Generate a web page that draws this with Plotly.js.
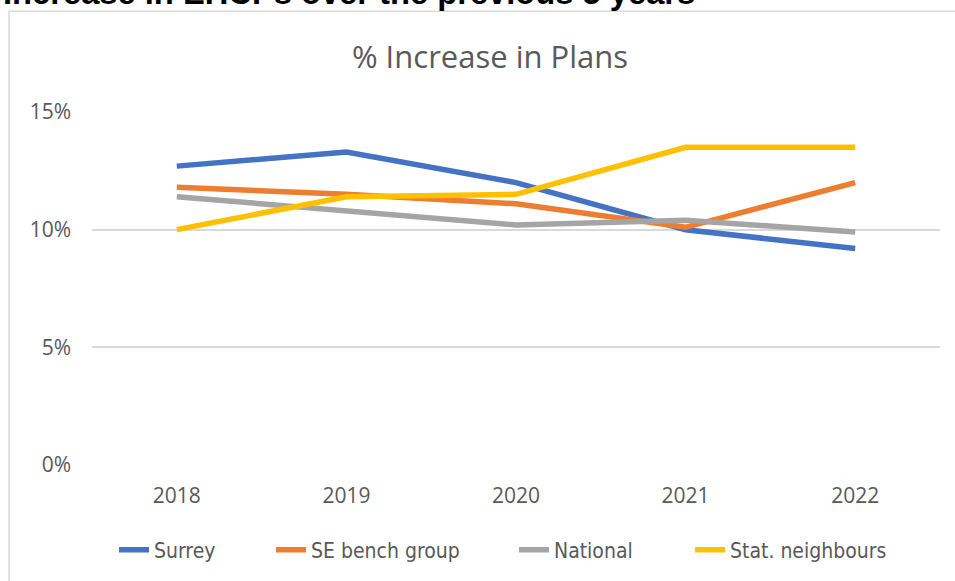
<!DOCTYPE html>
<html>
<head>
<meta charset="utf-8">
<script src="https://cdn.plot.ly/plotly-3.0.1.min.js"></script>
<style>html,body{margin:0;padding:0;background:#fff;}#chart{width:955px;height:581px;}</style>
</head>
<body>
<div id="chart"></div>
<script>
const years = ['2018', '2019', '2020', '2021', '2022'];
const surrey = [0.127, 0.133, 0.120, 0.100, 0.092];
const seBench = [0.118, 0.115, 0.111, 0.101, 0.120];
const national = [0.114, 0.108, 0.102, 0.104, 0.099];
const statNeighbours = [0.100, 0.114, 0.115, 0.135, 0.135];
const seriesNames = ['Surrey', 'SE bench group', 'National', 'Stat. neighbours'];
const seriesColors = ['#4472C4', '#ED7D31', '#A5A5A5', '#FFC000'];
const yTicks = [0, 0.05, 0.10, 0.15];
const yTickText = ['0%', '5%', '10%', '15%'];

const allValues = [surrey, seBench, national, statNeighbours];
const legendIds = ['legend', 'legend2', 'legend3', 'legend4'];
const traces = allValues.map((v, i) => ({
  type: 'scatter', mode: 'lines', x: years, y: v, name: seriesNames[i],
  legend: legendIds[i],
  line: {color: seriesColors[i], width: 5.5},
  hoverinfo: 'x+y+name'
}));

// plot area: x 92..940 px, y 112..466 px
const L = 92, R = 940, T = 112, B = 466;
const px = p => (p - L) / (R - L);
const py = p => (B - p) / (B - T);

const legendStarts = [114, 271, 514, 690];
const legendFont = {family: '"Liberation Sans Narrow", "DejaVu Sans Condensed", sans-serif', size: 21, color: '#595959'};
const tickFont = {family: '"Open Sans", sans-serif', size: 21, color: '#595959'};
const layout = {
  width: 955, height: 581,
  margin: {l: L, r: 955 - R, t: T, b: 581 - B},
  paper_bgcolor: '#fff', plot_bgcolor: '#fff',
  title: {text: '% Increase in Plans', font: {family: '"Open Sans", sans-serif', size: 31, color: '#595959'},
          xref: 'container', yref: 'container', x: 490 / 955, xanchor: 'center', y: 1 - 57 / 581, yanchor: 'middle'},
  xaxis: {type: 'category', range: [-0.5, 4.5], showgrid: false, zeroline: false, showline: false, ticks: '',
          ticklabelstandoff: 16, tickfont: tickFont, fixedrange: true},
  yaxis: {range: [0, 0.15], tickvals: yTicks, ticktext: yTickText, showgrid: true, gridcolor: '#D9D9D9', gridwidth: 1.5,
          zeroline: false, showline: false, ticks: '', ticklabelstandoff: 20,
          tickfont: tickFont, fixedrange: true},
  showlegend: true,
  shapes: [{type: 'rect', xref: 'paper', yref: 'paper', x0: px(9), x1: px(990), y0: py(620), y1: py(11),
            line: {color: '#D9D9D9', width: 1.5}, fillcolor: 'rgba(0,0,0,0)', layer: 'below'}],
  annotations: [{text: '<b>Increase in EHCPs over the previous 5 years</b>', xref: 'paper', yref: 'paper',
                 x: px(1), xanchor: 'left', y: py(13), yanchor: 'bottom', showarrow: false,
                 font: {family: '"Liberation Sans", Arial, sans-serif', size: 32.7, color: '#000'}}]
};
legendIds.forEach((id, i) => {
  layout[id] = {orientation: 'h', x: px(legendStarts[i]), xanchor: 'left', y: py(550), yanchor: 'middle',
                font: legendFont, bgcolor: 'rgba(0,0,0,0)', borderwidth: 0};
});
Plotly.newPlot('chart', traces, layout, {displayModeBar: false});
</script>
</body>
</html>
